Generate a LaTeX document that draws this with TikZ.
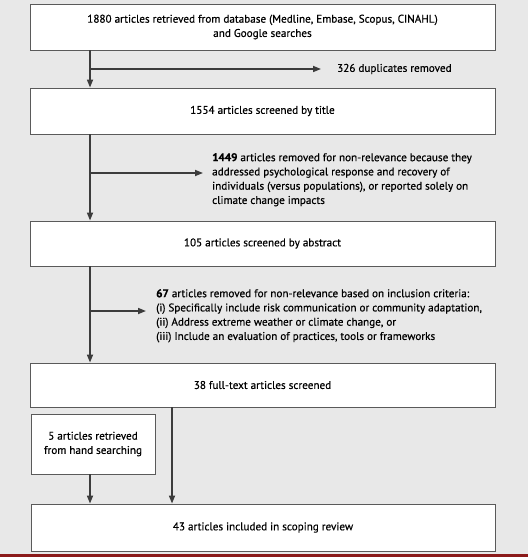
\documentclass[tikz,border=0pt]{standalone}
\usepackage{fontspec}
\setmainfont{PT Sans}[FakeBold=0.5, BoldFeatures={FakeBold=0.8}]
\usetikzlibrary{arrows.meta,calc}
\definecolor{bg}{HTML}{E8E8E8}
\definecolor{boxline}{HTML}{5A5A5A}
\definecolor{conn}{HTML}{3C3C3C}
\definecolor{redline}{HTML}{8B1A1A}
\begin{document}
\begin{tikzpicture}[x=1bp,y=-1bp,
  every node/.style={font=\fontsize{11.2}{14.3}\selectfont, text=black},
  flowbox/.style={draw=boxline, line width=0.9bp, fill=white, inner sep=0pt, align=center},
  conline/.style={draw=conn, line width=1.6bp},
  conarrow/.style={conline, -{Triangle[length=8bp,width=6bp]}},
  note/.style={align=left, inner sep=0pt, anchor=north west}]
\useasboundingbox (0,0) rectangle (528,557);
\fill[bg] (0,0) rectangle (528,557);
\fill[redline] (0,553.5) rectangle (528,557);

\node[flowbox, minimum width=465bp, minimum height=46bp] (b1) at (262.5,27)
  {1880 articles retrieved from database (Medline, Embase, Scopus, CINAHL)\\and Google searches};
\node[flowbox, minimum width=465bp, minimum height=46bp] (b2) at (262.5,111)
  {1554 articles screened by title};
\node[flowbox, minimum width=465bp, minimum height=45bp] (b3) at (262.5,243.5)
  {105 articles screened by abstract};
\node[flowbox, minimum width=465bp, minimum height=44bp] (b4) at (262.5,385)
  {38 full-text articles screened};
\node[flowbox, minimum width=124bp, minimum height=60bp] (hs) at (93,444)
  {5 articles retrieved\\from hand searching};
\node[flowbox, minimum width=464bp, minimum height=47bp] (b5) at (263,527.5)
  {43 articles included in scoping review};

\node[note, anchor=west] (n1) at (337,69) {326 duplicates removed};
\node[note] (n2) at (212,153) {\textbf{1449} articles removed for non-relevance because they\\addressed psychological response and recovery of\\individuals (versus populations), or reported solely on\\climate change impacts};
\node[note] (n3) at (156,289) {\textbf{67} articles removed for non-relevance based on inclusion criteria:\\(i) Specifically include risk communication or community adaptation,\\(ii) Address extreme weather or climate change, or\\(iii) Include an evaluation of practices, tools or frameworks};

\coordinate (j1) at (90,69);
\coordinate (e1) at (321,69);
\coordinate (j2) at (90,173);
\coordinate (e2) at (203,173);
\coordinate (j3) at (90,311);
\coordinate (e3) at (146,311);

\draw[conarrow] (b1.south -| j1) -- (b2.north -| j1);
\draw[conarrow] (j1) -- (e1);
\draw[conarrow] (b2.south -| j2) -- (b3.north -| j2);
\draw[conarrow] (j2) -- (e2);
\draw[conarrow] (b3.south -| j3) -- (b4.north -| j3);
\draw[conarrow] (j3) -- (e3);
\draw[conarrow] (hs.south -| j1) -- (b5.north -| j1);
\coordinate (k4) at (172,400);
\draw[conarrow] (b4.south -| k4) -- (b5.north -| k4);
\end{tikzpicture}
\end{document}
